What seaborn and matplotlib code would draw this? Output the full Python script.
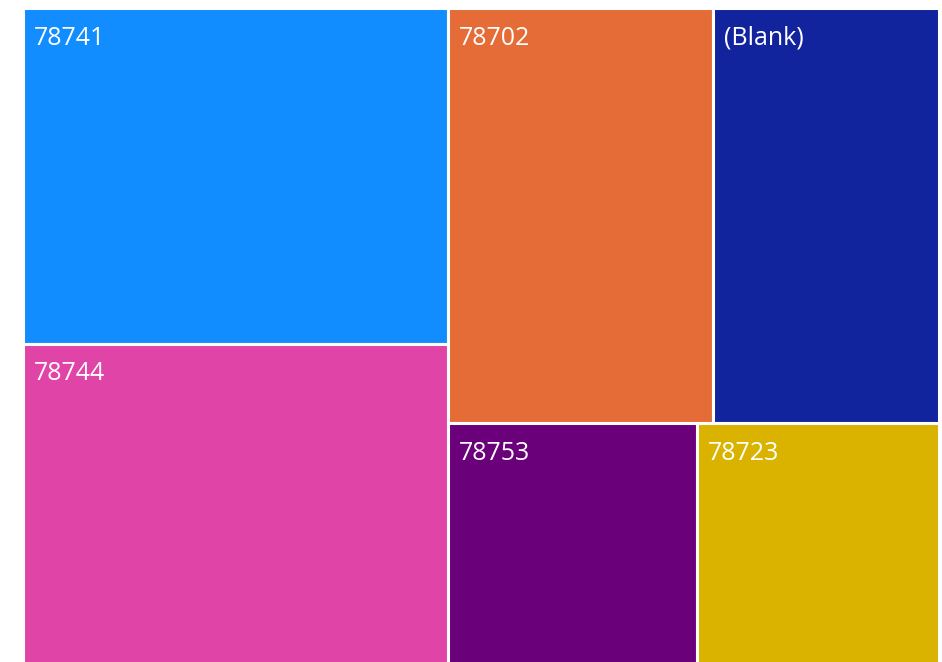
import matplotlib
matplotlib.use("Agg")
import matplotlib.pyplot as plt
from matplotlib.patches import Rectangle
import seaborn as sns

# Data (values estimated from tile areas)
categories = ["78741", "78744", "78702", "(Blank)", "78753", "78723"]
values = [245.0, 234.5, 189.5, 160.8, 103.3, 100.0]
colors = ["#118DFF", "#E044A7", "#E66C37", "#12239E", "#6B007B", "#D9B300"]

sns.set_theme(style="white")
plt.rcParams['font.family'] = ['Open Sans', 'DejaVu Sans']

W, H = 915.7, 656.0
LEFT, TOP = 22.9, 8.4


def worst(row, side):
    s = sum(row)
    mx, mn = max(row), min(row)
    return max(side * side * mx / (s * s), (s * s) / (side * side * mn))


def layout(vals, x, y, w, h):
    rects = []
    vals = list(vals)
    while vals:
        side = min(w, h)
        row = [vals[0]]
        i = 1
        while i < len(vals) and worst(row + [vals[i]], side) <= worst(row, side):
            row.append(vals[i])
            i += 1
        vals = vals[i:]
        s = sum(row)
        if w >= h:  # column on the left
            cw = s / h
            yy = y
            for v in row:
                rh = v / cw
                rects.append((x, yy, cw, rh))
                yy += rh
            x += cw
            w -= cw
        else:  # row on top
            rh = s / w
            xx = x
            for v in row:
                cw = v / rh
                rects.append((xx, y, cw, rh))
                xx += cw
            y += rh
            h -= rh
    return rects


total = sum(values)
scaled = [v * W * H / total for v in values]
rects = layout(scaled, 0, 0, W, H)

fig = plt.figure(figsize=(9.42, 6.62), dpi=100)
ax = fig.add_axes([LEFT / 942, 1 - (TOP + H) / 662, W / 942, H / 662])
ax.set_xlim(0, W)
ax.set_ylim(H, 0)
ax.axis("off")

for (x, y, w, h), lab, col in zip(rects, categories, colors):
    ax.add_patch(Rectangle((x, y), w, h, facecolor=col, edgecolor="white",
                           linewidth=2.2))
    ax.annotate(lab, xy=(x, y), xytext=(7.8, -26.3), textcoords="offset points",
                ha="left", va="baseline", color="white", fontsize=18)

fig.savefig("out.png", dpi=100)
